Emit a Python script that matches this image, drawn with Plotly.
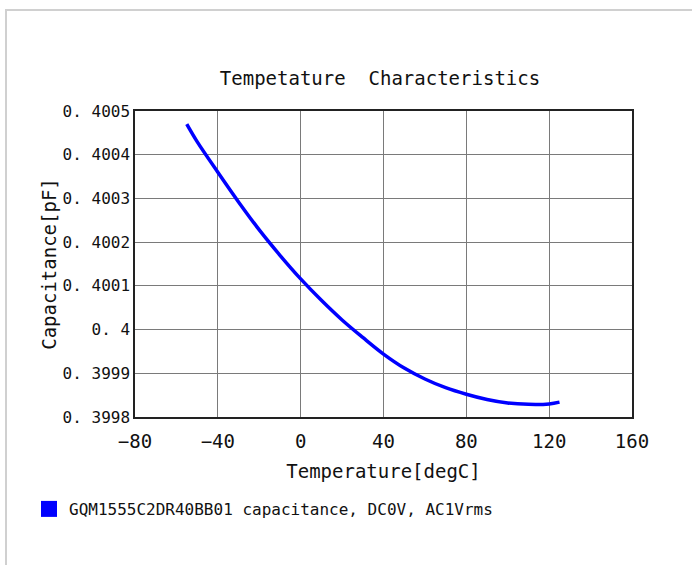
import plotly.graph_objects as go

temperature = [-55, -50, -40, -30, -20, -10, 0, 10, 20, 30, 40, 50, 60, 70, 80, 90, 100, 110, 120, 125]
capacitance = [0.40047, 0.40043, 0.40036, 0.400292, 0.400228, 0.40017, 0.400116, 0.400067,
               0.400022, 0.399982, 0.399944, 0.399912, 0.399887, 0.399867, 0.399852, 0.39984,
               0.399832, 0.399829, 0.39983, 0.399834]

x_ticks = [-80, -40, 0, 40, 80, 120, 160]
y_ticks = [0.3998, 0.3999, 0.4, 0.4001, 0.4002, 0.4003, 0.4004, 0.4005]
y_tick_labels = ["0. 3998", "0. 3999", "0. 4", "0. 4001", "0. 4002", "0. 4003", "0. 4004", "0. 4005"]

title_text = "Tempetature  Characteristics"
x_title = "Temperature[degC]"
y_title = "Capacitance[pF]"
series_name = "GQM1555C2DR40BB01 capacitance, DC0V, AC1Vrms"

FONT = "DejaVu Sans Mono"
W, H = 692, 565
L, R, T, B = 135, 60, 111, 148
PW, PH = W - L - R, H - T - B

fig = go.Figure()
fig.add_trace(go.Scatter(
    x=temperature, y=capacitance, mode="lines",
    line=dict(color="#0000ff", width=3.5, shape="spline"),
    showlegend=False,
))
fig.add_trace(go.Scatter(
    x=[None], y=[None], mode="markers", name=series_name,
    marker=dict(symbol="square", size=16, color="#0000ff"),
    showlegend=True,
))

fig.update_layout(
    width=W, height=H,
    paper_bgcolor="white", plot_bgcolor="white",
    margin=dict(l=L, r=R, t=T, b=B),
    font=dict(family=FONT, color="#111111", size=16),
    title=dict(text=title_text, x=380 / W, xanchor="center",
               y=1 - 78 / H, yanchor="middle", font=dict(size=19)),
    legend=dict(x=(29 - L) / PW, y=(T + PH - 509) / PH, xanchor="left", yanchor="middle",
                font=dict(size=16), bgcolor="rgba(0,0,0,0)", borderwidth=0),
    shapes=[
        dict(type="line", xref="paper", yref="paper",
             x0=(5 - L) / PW, x1=(W - L) / PW, y0=(T + PH - 10) / PH, y1=(T + PH - 10) / PH,
             line=dict(color="#d0d0d0", width=2)),
        dict(type="line", xref="paper", yref="paper",
             x0=(6 - L) / PW, x1=(6 - L) / PW, y0=(T + PH - 10) / PH, y1=(T + PH - H) / PH,
             line=dict(color="#d0d0d0", width=2)),
    ],
)

fig.update_xaxes(
    range=[-80, 160], tickvals=x_ticks, showgrid=True, gridcolor="#7a7a7a", gridwidth=1,
    showline=True, linecolor="#222222", linewidth=1.5, mirror=True, zeroline=False,
    ticks="", tickfont=dict(size=19), ticklabelstandoff=6,
    title=dict(text=x_title, font=dict(size=19), standoff=14),
)
fig.update_yaxes(
    range=[0.3998, 0.4005], tickvals=y_ticks, ticktext=y_tick_labels,
    showgrid=True, gridcolor="#7a7a7a", gridwidth=1,
    showline=True, linecolor="#222222", linewidth=1.5, mirror=True, zeroline=False,
    ticks="", tickfont=dict(size=16),
    title=dict(text=y_title, font=dict(size=19), standoff=1),
)

fig.write_html("out.html", config={"displayModeBar": False},
               post_script="document.body.style.margin='0';document.body.style.overflow='hidden';")
